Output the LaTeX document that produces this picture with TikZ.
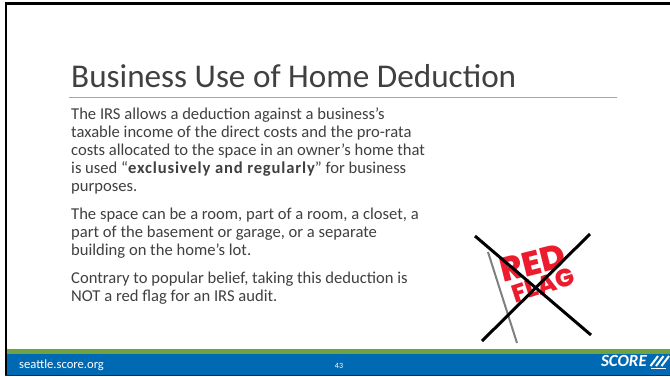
\documentclass[tikz,border=0pt]{standalone}
\usepackage{fontspec}
\setmainfont{Carlito}
\newfontfamily\flagfont{Poppins}[UprightFont=* ExtraBold]
\definecolor{bluebar}{HTML}{0069B4}
\definecolor{greenbar}{HTML}{6FA241}
\definecolor{titlegray}{HTML}{404040}
\definecolor{rulegray}{HTML}{A6A6A6}
\definecolor{flagred}{HTML}{EC1C2E}
\tikzset{
 bodytext/.style={anchor=north west,inner sep=0pt,text=titlegray,align=left,font=\fontsize{16.6}{18}\selectfont},
 crossline/.style={line width=3pt,black},
 flagtext/.style={text=flagred,inner sep=0pt}
}
\begin{document}
\begin{tikzpicture}[x=1pt,y=-1pt]
\useasboundingbox (0,0) rectangle (670,376);
\fill[white] (0,0) rectangle (670,376);
\draw[line width=2.7pt,black] (5.8,3.6) -- (670,3.6);
\draw[line width=1.8pt,black] (5.8,2.3) -- (5.8,376);
\fill[greenbar] (6.7,349) rectangle (670,354);
\fill[bluebar] (6.7,354) rectangle (670,375);
\fill[black!85] (5,375) rectangle (670,376);
\node[anchor=base west,inner sep=0pt,text=titlegray,font=\fontsize{33.2}{36}\selectfont] (title) at (71,87) {Business Use of Home Deduction};
\draw[rulegray,line width=1pt] (69,97.5) -- (617,97.5);
\node[bodytext] (p1) at (71,108) {The IRS allows a deduction against a business's\\taxable income of the direct costs and the pro-rata\\costs allocated to the space in an owner's home that\\is used ``{\addfontfeature{LetterSpace=5}\bfseries exclusively and regularly}'' for business\\purposes.};
\node[bodytext] (p2) at (71,208) {The space can be a room, part of a room, a closet, a\\part of the basement or garage, or a separate\\building on the home's lot.};
\node[bodytext] (p3) at (71,272) {Contrary to popular belief, taking this deduction is\\NOT a red flag for an IRS audit.};
\node[inner sep=0pt,text=white,font=\fontsize{12.6}{14}\selectfont,anchor=base west] (url) at (19,368.5) {seattle.score.org};
\node[inner sep=0pt,text=white,font=\fontsize{8}{9}\selectfont] (num) at (339,366) {43};
\node[inner sep=0pt,text=white,font=\bfseries\itshape\fontsize{17}{18}\selectfont,anchor=base east] (score) at (647,366) {SCORE};
\draw[white,line width=2pt] (650.5,366) -- (658,356) (656,366) -- (663.5,356) (661.5,366) -- (669,356);
\draw[white,line width=0.8pt] (651,368.5) -- (666,368.5);
\draw[gray,line width=2pt] (488,252) -- (517,343);
\node[flagtext,rotate=14,font=\flagfont\fontsize{34}{36}\selectfont] (red) at (533,263) {RED};
\node[flagtext,rotate=18,font=\flagfont\fontsize{25}{27}\selectfont] (flag) at (543,285) {FLAG};
\draw[crossline] (475,236) -- (591,335);
\draw[crossline] (590,234) -- (482,341);
\end{tikzpicture}
\end{document}
